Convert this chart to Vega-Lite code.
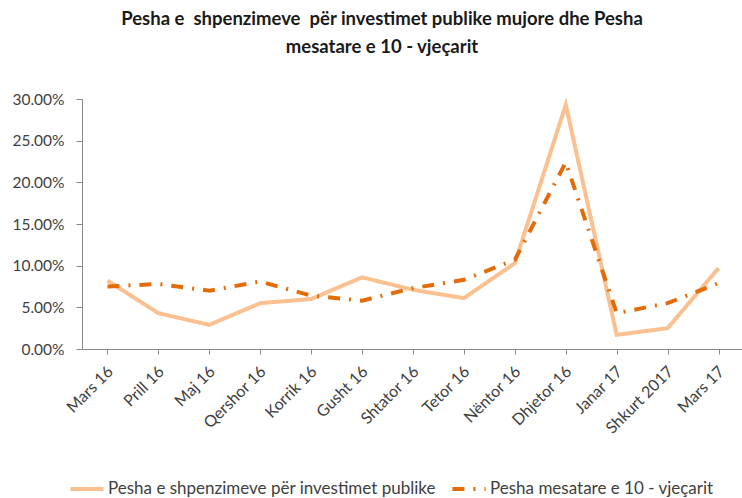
{
  "$schema": "https://vega.github.io/schema/vega-lite/v6.json",
  "autosize": "none",
  "width": 662,
  "height": 250,
  "padding": {"left": 82, "top": 99, "right": 0, "bottom": 149},
  "background": "white",
  "title": {
    "text": ["Pesha e \u00a0shpenzimeve \u00a0për investimet publike mujore dhe Pesha", "mesatare e 10 - vjeçarit"],
    "font": "Lato",
    "fontSize": 18.5,
    "fontWeight": "bold",
    "color": "#1a1a1a",
    "anchor": "middle",
    "dx": -31,
    "offset": 36,
    "lineHeight": 28
  },
  "config": {
    "view": {"stroke": null},
    "font": "Lato"
  },
  "data": {
    "values": [
      {"month": "Mars 16", "series": "Pesha e shpenzimeve për investimet publike", "value": 0.082},
      {"month": "Prill 16", "series": "Pesha e shpenzimeve për investimet publike", "value": 0.043},
      {"month": "Maj 16", "series": "Pesha e shpenzimeve për investimet publike", "value": 0.029},
      {"month": "Qershor 16", "series": "Pesha e shpenzimeve për investimet publike", "value": 0.055},
      {"month": "Korrik 16", "series": "Pesha e shpenzimeve për investimet publike", "value": 0.060},
      {"month": "Gusht 16", "series": "Pesha e shpenzimeve për investimet publike", "value": 0.086},
      {"month": "Shtator 16", "series": "Pesha e shpenzimeve për investimet publike", "value": 0.071},
      {"month": "Tetor 16", "series": "Pesha e shpenzimeve për investimet publike", "value": 0.061},
      {"month": "Nëntor 16", "series": "Pesha e shpenzimeve për investimet publike", "value": 0.103},
      {"month": "Dhjetor 16", "series": "Pesha e shpenzimeve për investimet publike", "value": 0.293},
      {"month": "Janar 17", "series": "Pesha e shpenzimeve për investimet publike", "value": 0.017},
      {"month": "Shkurt 2017", "series": "Pesha e shpenzimeve për investimet publike", "value": 0.025},
      {"month": "Mars 17", "series": "Pesha e shpenzimeve për investimet publike", "value": 0.097},
      {"month": "Mars 16", "series": "Pesha mesatare e 10 - vjeçarit", "value": 0.075},
      {"month": "Prill 16", "series": "Pesha mesatare e 10 - vjeçarit", "value": 0.078},
      {"month": "Maj 16", "series": "Pesha mesatare e 10 - vjeçarit", "value": 0.070},
      {"month": "Qershor 16", "series": "Pesha mesatare e 10 - vjeçarit", "value": 0.081},
      {"month": "Korrik 16", "series": "Pesha mesatare e 10 - vjeçarit", "value": 0.064},
      {"month": "Gusht 16", "series": "Pesha mesatare e 10 - vjeçarit", "value": 0.058},
      {"month": "Shtator 16", "series": "Pesha mesatare e 10 - vjeçarit", "value": 0.073},
      {"month": "Tetor 16", "series": "Pesha mesatare e 10 - vjeçarit", "value": 0.083},
      {"month": "Nëntor 16", "series": "Pesha mesatare e 10 - vjeçarit", "value": 0.107},
      {"month": "Dhjetor 16", "series": "Pesha mesatare e 10 - vjeçarit", "value": 0.224},
      {"month": "Janar 17", "series": "Pesha mesatare e 10 - vjeçarit", "value": 0.043},
      {"month": "Shkurt 2017", "series": "Pesha mesatare e 10 - vjeçarit", "value": 0.055},
      {"month": "Mars 17", "series": "Pesha mesatare e 10 - vjeçarit", "value": 0.079}
    ]
  },
  "mark": {"type": "line", "strokeWidth": 4, "strokeCap": "butt", "strokeJoin": "miter"},
  "encoding": {
    "x": {
      "field": "month",
      "type": "ordinal",
      "sort": null,
      "scale": {"paddingInner": 0, "paddingOuter": 0},
      "axis": {
        "title": null,
        "bandPosition": 0,
        "labelOffset": -3,
        "labelAngle": -45,
        "labelAlign": "right",
        "labelBaseline": "top",
        "labelFont": "Lato",
        "labelFontSize": 16,
        "labelColor": "#404040",
        "labelPadding": 9,
        "domainColor": "#888888",
        "tickColor": "#888888",
        "tickSize": 5,
        "grid": false
      }
    },
    "y": {
      "field": "value",
      "type": "quantitative",
      "scale": {"domain": [0, 0.3], "nice": false},
      "axis": {
        "title": null,
        "format": ".2%",
        "values": [0, 0.05, 0.1, 0.15, 0.2, 0.25, 0.3],
        "labelFont": "Lato",
        "labelFontSize": 15.5,
        "labelColor": "#404040",
        "labelPadding": 12,
        "domainColor": "#888888",
        "tickColor": "#888888",
        "tickSize": 6,
        "grid": false
      }
    },
    "color": {
      "field": "series",
      "type": "nominal",
      "scale": {"range": ["#FAC08F", "#E36C09"]},
      "legend": {
        "title": null,
        "orient": "none",
        "direction": "horizontal",
        "legendX": -14,
        "legendY": 371,
        "symbolType": "stroke",
        "symbolStrokeWidth": 4,
        "symbolSize": 1100,
        "labelFont": "Lato",
        "labelFontSize": 17,
        "labelColor": "#404040",
        "labelOffset": 2,
        "columnPadding": 8,
        "labelLimit": 400
      }
    },
    "strokeDash": {
      "field": "series",
      "type": "nominal",
      "scale": {"range": [[1, 0], [12, 9, 2, 9]]},
      "legend": null
    }
  }
}
